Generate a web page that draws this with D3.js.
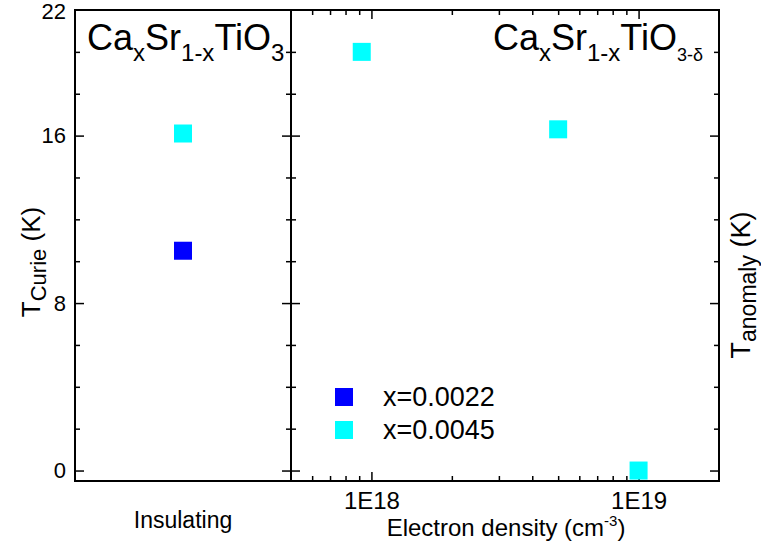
<!DOCTYPE html>
<html>
<head>
<meta charset="utf-8">
<title>Curie temperature vs electron density</title>
<script src="https://d3js.org/d3.v7.min.js"></script>
<style>
  body { margin: 0; background: #fff; }
  text { font-family: "Liberation Sans", Arial, sans-serif; fill: #000; }
</style>
</head>
<body>
<svg id="mainsvg" width="761" height="546"></svg>
<script>
// ---------- data ----------
const insulatingCategory = ["Insulating"];
const tCurieX0022 = [10.5];
const tCurieX0045 = [16.1];

const densityX0045 = [9.2e17, 5.0e18, 1.0e19];
const tAnomalyX0045 = [20.0, 16.3, 0.0];

const yMajorTicks = [0, 8, 16];
const yMinorTicks = [2, 4, 6, 10, 12, 14, 18, 20];
const yTopLabel = [22];
const xMajorTicks = [1e18, 1e19];
const xMajorLabels = ["1E18", "1E19"];
const xMinorTicks = [6e17, 7e17, 8e17, 9e17, 2e18, 3e18, 4e18, 5e18, 6e18, 7e18, 8e18, 9e18];

const legendLabels = ["x=0.0022", "x=0.0045"];
const seriesColors = ["#0000ff", "#00ffff"];

// ---------- layout ----------
const svg = d3.select("#mainsvg");
const plotTop = 10, plotBottom = 481;
const leftL = 75, mid = 291, rightR = 719;

const y = d3.scaleLinear().domain([-0.5, 22]).range([plotBottom, plotTop]);
const xCat = d3.scalePoint().domain(insulatingCategory).range([leftL, mid]).padding(0.5);
const xLog = d3.scaleLog().domain([5e17, 2e19]).range([mid, rightR]);

const major = 9, minor = 5;

// left panel: left axis with labels
svg.append("g").attr("transform", `translate(${leftL},0)`)
  .call(d3.axisLeft(y).tickValues(yMajorTicks.concat(yTopLabel)).tickSizeInner(-major).tickSizeOuter(0).tickPadding(9).tickFormat(d3.format("d")))
  .call(g => g.select(".domain").remove())
  .call(g => g.selectAll("text").attr("font-size", 22).attr("font-family", "Liberation Sans, Arial, sans-serif"))
  .call(g => g.selectAll("text").filter(d => d === 22).attr("dy", "0.4em"))
  .call(g => g.selectAll("line").attr("stroke-width", 1.5).filter(d => d === 22).remove());
svg.append("g").attr("transform", `translate(${leftL},0)`)
  .call(d3.axisLeft(y).tickValues(yMinorTicks).tickSizeInner(-minor).tickSizeOuter(0).tickFormat(""))
  .call(g => g.select(".domain").remove())
  .call(g => g.selectAll("line").attr("stroke-width", 1.5));

// divider: ticks both sides, right axis ticks inward
[[mid, -1], [mid, 1], [rightR, -1]].forEach(([xp, dir]) => {
  svg.append("g").attr("transform", `translate(${xp},0)`)
    .call(d3.axisRight(y).tickValues(yMajorTicks).tickSizeInner(dir * major).tickSizeOuter(0).tickFormat(""))
    .call(g => g.select(".domain").remove())
    .call(g => g.selectAll("line").attr("stroke-width", 1.5));
  svg.append("g").attr("transform", `translate(${xp},0)`)
    .call(d3.axisRight(y).tickValues(yMinorTicks).tickSizeInner(dir * minor).tickSizeOuter(0).tickFormat(""))
    .call(g => g.select(".domain").remove())
    .call(g => g.selectAll("line").attr("stroke-width", 1.5));
});

// right panel bottom axis (log) and top ticks
svg.append("g").attr("transform", `translate(0,${plotBottom})`)
  .call(d3.axisBottom(xLog).tickValues(xMajorTicks).tickSizeInner(-major).tickSizeOuter(0).tickPadding(11)
    .tickFormat((d, i) => xMajorLabels[i]))
  .call(g => g.select(".domain").remove())
  .call(g => g.selectAll("text").attr("font-size", 24).attr("font-family", "Liberation Sans, Arial, sans-serif"))
  .call(g => g.selectAll("line").attr("stroke-width", 1.5));
svg.append("g").attr("transform", `translate(0,${plotBottom})`)
  .call(d3.axisBottom(xLog).tickValues(xMinorTicks).tickSizeInner(-minor).tickSizeOuter(0).tickFormat(""))
  .call(g => g.select(".domain").remove())
  .call(g => g.selectAll("line").attr("stroke-width", 1.5));
svg.append("g").attr("transform", `translate(0,${plotTop})`)
  .call(d3.axisTop(xLog).tickValues(xMajorTicks).tickSizeInner(-major).tickSizeOuter(0).tickFormat(""))
  .call(g => g.select(".domain").remove())
  .call(g => g.selectAll("line").attr("stroke-width", 1.5));
svg.append("g").attr("transform", `translate(0,${plotTop})`)
  .call(d3.axisTop(xLog).tickValues(xMinorTicks).tickSizeInner(-minor).tickSizeOuter(0).tickFormat(""))
  .call(g => g.select(".domain").remove())
  .call(g => g.selectAll("line").attr("stroke-width", 1.5));

// frames
svg.append("rect").attr("x", leftL).attr("y", plotTop).attr("width", mid - leftL).attr("height", plotBottom - plotTop)
  .attr("fill", "none").attr("stroke", "#000").attr("stroke-width", 2);
svg.append("rect").attr("x", mid).attr("y", plotTop).attr("width", rightR - mid).attr("height", plotBottom - plotTop)
  .attr("fill", "none").attr("stroke", "#000").attr("stroke-width", 2);

// ---------- marks ----------
const sq = 18;
const leftPts = [
  { cat: insulatingCategory[0], v: tCurieX0022[0], c: seriesColors[0] },
  { cat: insulatingCategory[0], v: tCurieX0045[0], c: seriesColors[1] }
];
svg.selectAll("rect.left").data(leftPts).join("rect").attr("class", "left")
  .attr("x", d => xCat(d.cat) - sq / 2).attr("y", d => y(d.v) - sq / 2)
  .attr("width", sq).attr("height", sq).attr("fill", d => d.c);

const rightPts = densityX0045.map((n, i) => ({ n, v: tAnomalyX0045[i] }));
svg.selectAll("rect.right").data(rightPts).join("rect").attr("class", "right")
  .attr("x", d => xLog(d.n) - sq / 2).attr("y", d => y(d.v) - sq / 2)
  .attr("width", sq).attr("height", sq).attr("fill", seriesColors[1]);

// ---------- legend ----------
const legend = svg.append("g").attr("transform", "translate(344,397)");
legendLabels.forEach((lab, i) => {
  legend.append("rect").attr("x", -sq / 2).attr("y", i * 33 - sq / 2).attr("width", sq).attr("height", sq).attr("fill", seriesColors[i]);
  legend.append("text").attr("x", 39).attr("y", i * 33 + 9).attr("font-size", 27).text(lab);
});

// ---------- titles ----------
function chem(g, x, yb, anchor, tail, tailSize) {
  const t = g.append("text").attr("x", x).attr("y", yb).attr("font-size", 36).attr("text-anchor", anchor);
  t.append("tspan").text("Ca");
  t.append("tspan").attr("font-size", 24).attr("dy", 11).text("x");
  t.append("tspan").attr("dy", -11).text("Sr");
  t.append("tspan").attr("font-size", 24).attr("dy", 11).text("1-x");
  t.append("tspan").attr("dy", -11).text("TiO");
  t.append("tspan").attr("font-size", tailSize).attr("dy", 11).text(tail);
}
chem(svg, 87, 50, "start", "3", 24);
chem(svg, 703, 50, "end", "3-\u03b4", 18);

// axis titles
svg.append("text").attr("x", xCat(insulatingCategory[0])).attr("y", 528).attr("text-anchor", "middle")
  .attr("font-size", 23).text("Insulating");
const xt = svg.append("text").attr("x", 506).attr("y", 536).attr("text-anchor", "middle").attr("font-size", 24);
xt.append("tspan").text("Electron density (cm");
xt.append("tspan").attr("font-size", 15).attr("dy", -10).text("-3");
xt.append("tspan").attr("dy", 10).text(")");

const yl = svg.append("text").attr("transform", "translate(40,262) rotate(-90)").attr("text-anchor", "middle").attr("font-size", 26);
yl.append("tspan").text("T");
yl.append("tspan").attr("font-size", 22).attr("dy", 6).text("Curie");
yl.append("tspan").attr("dy", -6).text(" (K)");

const yr = svg.append("text").attr("transform", "translate(750,285) rotate(-90)").attr("text-anchor", "middle").attr("font-size", 27);
yr.append("tspan").text("T");
yr.append("tspan").attr("font-size", 23).attr("dy", 6).text("anomaly");
yr.append("tspan").attr("dy", -6).text(" (K)");
</script>
</body>
</html>
